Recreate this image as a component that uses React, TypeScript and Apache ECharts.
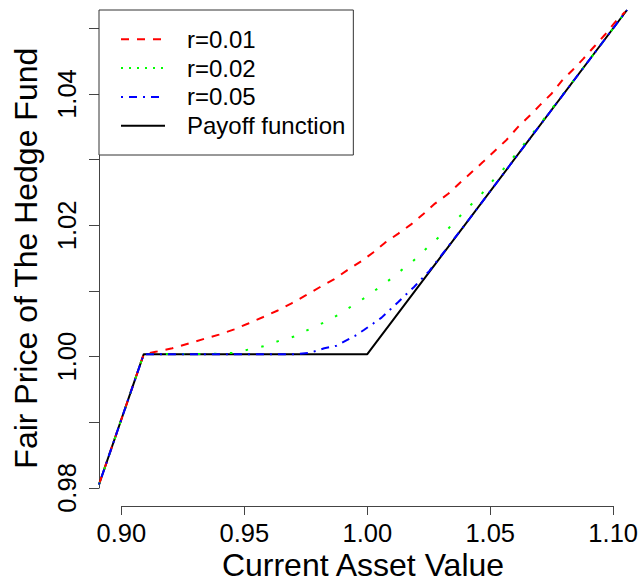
import React, { useEffect, useRef } from 'react';
import * as echarts from 'echarts';

// Payoff function
const payoffX = [0.8909, 0.9091, 1.0, 1.1056];
const payoffY = [0.98, 1.0, 1.0, 1.0528];

// r = 0.01
const r01X = [0.8909, 0.9091, 0.9144, 0.9207, 0.927, 0.9333, 0.9397, 0.9459, 0.9516, 0.9577, 0.9636, 0.9692, 0.9749, 0.9808, 0.9866, 0.9919, 0.9977, 1.0024, 1.0072, 1.0126, 1.0178, 1.0228, 1.0275, 1.0329, 1.0377, 1.0424, 1.0471, 1.0519, 1.0567, 1.0614, 1.0661, 1.0702, 1.075, 1.079, 1.0835, 1.0878, 1.0923, 1.0966, 1.1007, 1.1048];
const r01Y = [0.98, 1.0, 1.0004, 1.0009, 1.0016, 1.0023, 1.003, 1.0038, 1.0047, 1.0057, 1.0067, 1.0078, 1.009, 1.0103, 1.0115, 1.0129, 1.0143, 1.0156, 1.0171, 1.0185, 1.0199, 1.0215, 1.0231, 1.0246, 1.0263, 1.0279, 1.0295, 1.0312, 1.0329, 1.0349, 1.0366, 1.0382, 1.04, 1.0419, 1.0436, 1.0453, 1.0472, 1.049, 1.0509, 1.0525];

// r = 0.02
const r02X = [0.8909, 0.9091, 0.94, 0.9454, 0.9516, 0.9577, 0.9638, 0.9702, 0.9763, 0.9821, 0.988, 0.9938, 0.9992, 1.0047, 1.0101, 1.0149, 1.0178, 1.0271, 1.0323, 1.0367, 1.0413, 1.0461, 1.0503, 1.0549, 1.062, 1.07, 1.08, 1.09, 1.1056];
const r02Y = [0.98, 1.0, 1.00005, 1.0002, 1.0007, 1.0012, 1.002, 1.0027, 1.0038, 1.0048, 1.006, 1.0074, 1.0087, 1.0102, 1.0117, 1.0132, 1.014, 1.0173, 1.019, 1.0208, 1.0226, 1.0244, 1.0263, 1.0282, 1.0314, 1.0352, 1.0401, 1.045, 1.0528];

// r = 0.05
const r05X = [0.8909, 0.9091, 0.97, 0.9767, 0.9825, 0.9875, 0.995, 0.9986, 1.0024, 1.0058, 1.0092, 1.0126, 1.0156, 1.019, 1.0217, 1.0251, 1.03, 1.04, 1.06, 1.08, 1.1056];
const r05Y = [0.98, 1.0, 1.0, 1.0002, 1.0009, 1.0013, 1.0028, 1.0037, 1.0047, 1.0056, 1.0068, 1.008, 1.0091, 1.0103, 1.0114, 1.0127, 1.0151, 1.02, 1.03, 1.04, 1.0528];

const seriesNames = ['r=0.01', 'r=0.02', 'r=0.05', 'Payoff function'];
const xTickLabels = ['0.90', '0.95', '1.00', '1.05', '1.10'];
const yTickLabels = ['0.98', '1.00', '1.02', '1.04'];

const pairs = (xs: number[], ys: number[]) => xs.map((x, i) => [x, ys[i]]);

export default function App() {
  const ref = useRef<HTMLDivElement>(null);
  useEffect(() => {
    const chart = echarts.init(ref.current!, null, { renderer: 'svg' });
    const font = "'Liberation Sans', Arial, Helvetica, sans-serif";
    const axisColor = '#444';
    chart.setOption({
      animation: false,
      backgroundColor: '#ffffff',
      textStyle: { fontFamily: font },
      grid: [
        { left: 99, right: 14, top: 10, bottom: 98 },
        { left: 99, right: 14, top: 28.4, bottom: 98 },
        { left: 121.4, right: 27.8, top: 10, bottom: 80 },
      ],
      legend: {
        data: [
          { name: seriesNames[0], lineStyle: { type: [8, 8], width: 2 } },
          { name: seriesNames[1], lineStyle: { type: [2, 6], width: 2 } },
          { name: seriesNames[2], lineStyle: { type: [2, 6, 8, 6], width: 2 } },
          { name: seriesNames[3], lineStyle: { type: 'solid', width: 2 } },
        ],
        orient: 'vertical',
        left: 99,
        top: 10,
        itemWidth: 44,
        itemHeight: 14,
        itemGap: 4.8,
        padding: [17.3, 8, 17.3, 21],
        borderColor: '#333',
        borderWidth: 1,
        backgroundColor: '#ffffff',
        itemStyle: { opacity: 0 },
        textStyle: { fontSize: 24, color: '#000', fontFamily: font, padding: [0, 0, 0, 17] },
        selectedMode: false,
      },
      xAxis: [
        {
          gridIndex: 0, type: 'value', min: 0.8909, max: 1.1056,
          axisLine: { show: false }, axisTick: { show: false }, axisLabel: { show: false }, splitLine: { show: false },
          name: 'Current Asset Value', nameLocation: 'middle', nameGap: 64.5,
          nameTextStyle: { fontSize: 32, color: '#000', fontFamily: font },
        },
        { gridIndex: 1, type: 'value', show: false, min: 0, max: 1 },
        {
          gridIndex: 2, type: 'value', min: 0.9, max: 1.1, interval: 0.05, position: 'bottom',
          axisLine: { show: true, lineStyle: { color: axisColor, width: 1 } },
          axisTick: { show: true, length: 9, lineStyle: { color: axisColor, width: 1 } },
          axisLabel: {
            fontSize: 25.5, color: '#000', margin: 14, fontFamily: font,
            showMinLabel: true, showMaxLabel: true,
            formatter: (v: number) => {
              const s = v.toFixed(2);
              return xTickLabels.includes(s) ? s : '';
            },
          },
          splitLine: { show: false },
        },
      ],
      yAxis: [
        {
          gridIndex: 0, type: 'value', min: 0.98, max: 1.0528,
          axisLine: { show: false }, axisTick: { show: false }, axisLabel: { show: false }, splitLine: { show: false },
        },
        {
          gridIndex: 1, type: 'value', min: 0.98, max: 1.05, interval: 0.01, position: 'left',
          axisLine: { show: true, lineStyle: { color: axisColor, width: 1 } },
          axisTick: { show: true, length: 10, lineStyle: { color: axisColor, width: 1 } },
          axisLabel: {
            fontSize: 25.5, color: '#000', margin: 19.5, rotate: 90, fontFamily: font,
            showMinLabel: true, showMaxLabel: true,
            formatter: (v: number) => {
              const s = v.toFixed(2);
              return yTickLabels.includes(s) ? s : '';
            },
          },
          splitLine: { show: false },
          name: 'Fair Price of The Hedge Fund', nameLocation: 'middle', nameGap: 57,
          nameTextStyle: { fontSize: 32, color: '#000', fontFamily: font },
        },
        { gridIndex: 2, type: 'value', show: false, min: 0, max: 1 },
      ],
      series: [
        {
          name: seriesNames[3], type: 'line', xAxisIndex: 0, yAxisIndex: 0,
          data: pairs(payoffX, payoffY), symbol: 'none', showSymbol: false,
          lineStyle: { color: '#000000', width: 2, type: 'solid' }, itemStyle: { color: '#000000' },
        },
        {
          name: seriesNames[0], type: 'line', xAxisIndex: 0, yAxisIndex: 0,
          data: pairs(r01X, r01Y), symbol: 'none', showSymbol: false,
          lineStyle: { color: '#ff0000', width: 2, type: [8, 8] }, itemStyle: { color: '#ff0000' },
        },
        {
          name: seriesNames[1], type: 'line', xAxisIndex: 0, yAxisIndex: 0,
          data: pairs(r02X, r02Y), symbol: 'none', showSymbol: false,
          lineStyle: { color: '#00ff00', width: 2, type: [2.5, 13.5] }, itemStyle: { color: '#00ff00' },
        },
        {
          name: seriesNames[2], type: 'line', xAxisIndex: 0, yAxisIndex: 0,
          data: pairs(r05X, r05Y), symbol: 'none', showSymbol: false,
          lineStyle: { color: '#0000ff', width: 2, type: [2, 6, 8, 6] }, itemStyle: { color: '#0000ff' },
        },
        { type: 'line', xAxisIndex: 1, yAxisIndex: 1, data: [], silent: true },
        { type: 'line', xAxisIndex: 2, yAxisIndex: 2, data: [], silent: true },
      ],
    });
    return () => chart.dispose();
  }, []);
  return (
    <div
      ref={ref}
      style={{ position: 'fixed', left: 0, top: 0, width: 641, height: 586, background: '#fff' }}
    />
  );
}
